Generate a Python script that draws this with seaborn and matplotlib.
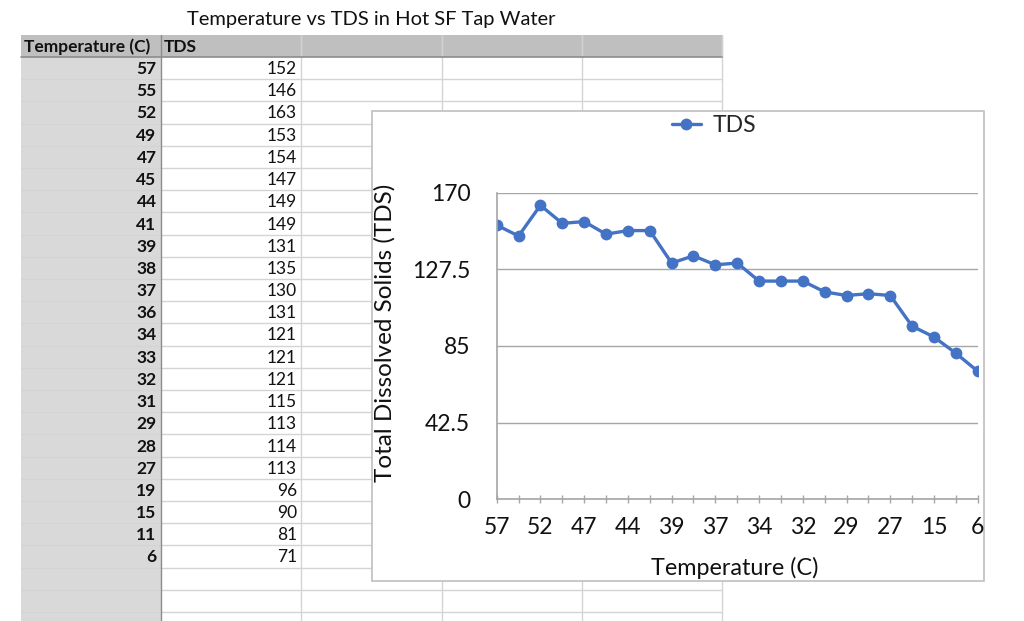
import numpy as np
import pandas as pd
import matplotlib
matplotlib.use("Agg")
import matplotlib.pyplot as plt
from matplotlib.patches import Rectangle
from matplotlib.lines import Line2D
import seaborn as sns

# ---- data ----
title_text = "Temperature vs TDS in Hot SF Tap Water"
col_headers = ["Temperature (C)", "TDS"]
temperatures = [57, 55, 52, 49, 47, 45, 44, 41, 39, 38, 37, 36, 34, 33, 32, 31, 29, 28, 27, 19, 15, 11, 6]
tds_values = [152, 146, 163, 153, 154, 147, 149, 149, 131, 135, 130, 131, 121, 121, 121, 115, 113, 114, 113, 96, 90, 81, 71]
y_ticks = [0, 42.5, 85, 127.5, 170]
y_tick_labels = ["0", "42.5", "85", "127.5", "170"]
x_label = "Temperature (C)"
y_label = "Total Dissolved Solids (TDS)"
series_name = "TDS"

sns.set_theme(style="white")
plt.rcParams['font.family'] = ['Lato', 'DejaVu Sans']

W, H = 1024, 621
fig = plt.figure(figsize=(W / 100, H / 100), dpi=100)
fig.patch.set_facecolor("white")

# ---- spreadsheet background ----
bg = fig.add_axes([0, 0, 1, 1])
bg.set_xlim(0, W)
bg.set_ylim(H, 0)
bg.axis("off")

col_x = [20.5, 160.5, 301, 441.5, 582, 722]
header_top, header_bot = 35, 57
row_h = 22.2
n_rows = 27
grid_c = "#d4d4d4"
txt_c = "#111111"

bg.text(371, 20, title_text, ha="center", va="center", fontsize=14.5, color=txt_c)
# header
bg.add_patch(Rectangle((col_x[0], header_top), col_x[-1] - col_x[0], header_bot - header_top,
                       facecolor="#bfbfbf", edgecolor="none", zorder=1))
# column A shading
bg.add_patch(Rectangle((col_x[0], header_bot), col_x[1] - col_x[0], H - header_bot,
                       facecolor="#d9d9d9", edgecolor="none", zorder=1))
# horizontal grid lines
for i in range(1, n_rows):
    yy = header_bot + i * row_h
    if yy > H:
        break
    bg.plot([col_x[0], col_x[-1]], [yy, yy], color=grid_c, lw=1, zorder=2)
# vertical lines
for j, xx in enumerate(col_x):
    if j == 1:
        bg.plot([xx, xx], [header_top, H], color="#8c8c8c", lw=1, zorder=3)
    elif j == 0:
        continue
    else:
        bg.plot([xx, xx], [header_top, H], color=grid_c, lw=1, zorder=2)
        bg.plot([xx, xx], [header_top, header_bot], color="#d0d0d0", lw=1, zorder=2)
bg.plot([col_x[0], col_x[-1]], [header_bot, header_bot], color="#8c8c8c", lw=1.2, zorder=3)

bg.text(col_x[0] + 3, (header_top + header_bot) / 2 + 1, col_headers[0], ha="left", va="center",
        fontsize=12.5, fontweight="bold", color=txt_c, zorder=4)
bg.text(col_x[1] + 3, (header_top + header_bot) / 2 + 1, col_headers[1], ha="left", va="center",
        fontsize=12.5, fontweight="bold", color=txt_c, zorder=4)
for i, (t, v) in enumerate(zip(temperatures, tds_values)):
    yc = header_bot + (i + 0.5) * row_h + 1
    bg.text(col_x[1] - 4, yc, str(t), ha="right", va="center", fontsize=12.5, fontweight="bold",
            color=txt_c, zorder=4)
    bg.text(col_x[2] - 4, yc, str(v), ha="right", va="center", fontsize=12.5, color=txt_c, zorder=4)

# chart box
box_l, box_t, box_r, box_b = 372, 111, 984, 581
bg.add_patch(Rectangle((box_l, box_t), box_r - box_l, box_b - box_t, facecolor="white",
                       edgecolor="#bfbfbf", lw=1.2, zorder=10))

# ---- chart ----
pl_l, pl_r, pl_t, pl_b = 496.7, 977.7, 192.7, 499.3
ax = fig.add_axes([pl_l / W, (H - pl_b) / H, (pl_r - pl_l) / W, (pl_b - pl_t) / H])
ax.set_zorder(5)
ax.patch.set_alpha(0)

df = pd.DataFrame({"pos": np.arange(len(temperatures)), "TDS": tds_values})
blue = "#4472C4"
sns.lineplot(data=df, x="pos", y="TDS", ax=ax, color=blue, lw=2.4, marker="o", markersize=8.5,
             markeredgewidth=0, sort=False, legend=False)

ax.set_xlim(0, len(temperatures) - 1)
ax.set_ylim(0, 170)
ax.set_yticks(y_ticks)
ax.set_yticklabels(y_tick_labels)
ax.set_xticks(np.arange(len(temperatures)))
ax.set_xticklabels([str(t) if i % 2 == 0 else "" for i, t in enumerate(temperatures)])
ax.grid(axis="y", color="#a6a6a6", lw=1)
ax.grid(axis="x", visible=False)
ax.set_axisbelow(True)
for s in ["top", "right"]:
    ax.spines[s].set_visible(False)
for s in ["left", "bottom"]:
    ax.spines[s].set_color("#a6a6a6")
    ax.spines[s].set_linewidth(1.2)
ax.tick_params(axis="y", length=0, pad=19, labelsize=16.5, labelcolor=txt_c)
ax.tick_params(axis="x", direction="inout", length=6, width=1, color="#a6a6a6", pad=10,
               labelsize=16.5, labelcolor=txt_c, bottom=True)
ax.set_xlabel("")
ax.set_ylabel("")

fig.text(735 / W, 1 - 568 / H, x_label, ha="center", va="center", fontsize=16.8, color=txt_c, zorder=20)
fig.text(385 / W, 1 - 333 / H, y_label, ha="center", va="center", rotation=90, fontsize=17.5,
         color=txt_c, zorder=20)

handle = Line2D([], [], color=blue, lw=2.4, marker="o", markersize=8.5, markeredgewidth=0)
fig.legend([handle], [series_name], loc="center", bbox_to_anchor=(714 / W, 1 - 126 / H), frameon=False,
           fontsize=16.5, handlelength=1.3, handletextpad=0.5)

fig.savefig("out.png", dpi=100, facecolor="white")
